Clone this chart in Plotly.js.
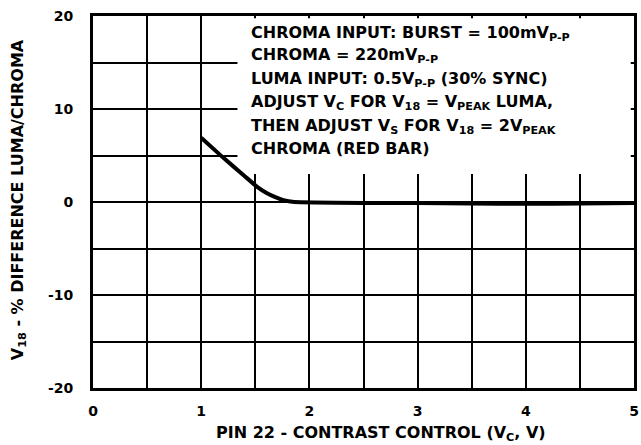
<!DOCTYPE html>
<html>
<head>
<meta charset="utf-8">
<script src="https://cdn.plot.ly/plotly-3.0.1.min.js"></script>
<style>html,body{margin:0;padding:0;background:#fff;}#chart{width:641px;height:445px;}</style>
</head>
<body>
<div id="chart"></div>
<script>
// Data
const contrastV = [1.0, 1.2, 1.4, 1.52, 1.6, 1.68, 1.76, 1.86, 2.5, 3.0, 3.5, 4.0, 4.5, 5.0];
const pctDiff   = [6.9, 4.8, 2.8, 1.6, 1.0, 0.55, 0.2, 0.0, -0.1, -0.1, -0.15, -0.2, -0.15, -0.1];
const xTickVals = [0, 1, 2, 3, 4, 5];
const xTickText = ["0", "1", "2", "3", "4", "5"];
const yTickVals = [-20, -10, 0, 10, 20];
const yTickText = ["-20", "-10", "0", "10", "20"];
const noteLines = [
  "CHROMA INPUT: BURST = 100mV<sub>P-P</sub>",
  "CHROMA = 220mV<sub>P-P</sub>",
  "LUMA INPUT: 0.5V<sub>P-P</sub> (30% SYNC)",
  "ADJUST V<sub>C</sub> FOR V<sub>18</sub> = V<sub>PEAK</sub> LUMA,",
  "THEN ADJUST V<sub>S</sub> FOR V<sub>18</sub> = 2V<sub>PEAK</sub>",
  "CHROMA (RED BAR)"
];
const xTitle = "PIN 22 - CONTRAST CONTROL (V<sub>C</sub>, V)";
const yTitle = "V<sub>18</sub> - % DIFFERENCE LUMA/CHROMA";

const fam = "DejaVu Sans, Verdana, sans-serif";
const noteY = [18.17, 15.7, 13.17, 10.65, 8.17, 5.7];

const annotations = noteLines.map((t, i) => ({
  text: t, x: 1.44, y: noteY[i], xref: 'x', yref: 'y',
  xanchor: 'left', yanchor: 'middle', showarrow: false,
  font: {family: fam, size: 16, color: '#000', weight: 'bold'}
}));
annotations.push({
  text: xTitle, xref: 'paper', yref: 'paper', x: 0.532, y: -0.122,
  xanchor: 'center', yanchor: 'middle', showarrow: false,
  font: {family: fam, size: 16, color: '#000', weight: 'bold'}
});
annotations.push({
  text: yTitle, xref: 'paper', yref: 'paper', x: -0.1386, y: 0.505,
  xanchor: 'center', yanchor: 'middle', showarrow: false, textangle: -90,
  font: {family: fam, size: 16, color: '#000', weight: 'bold'}
});

const trace = {
  x: contrastV, y: pctDiff, type: 'scatter', mode: 'lines',
  line: {color: '#000', width: 4, shape: 'spline', smoothing: 0.4},
  hoverinfo: 'skip'
};

const axisCommon = {
  showgrid: true, gridcolor: '#000', gridwidth: 2,
  showline: true, linecolor: '#000', linewidth: 3, mirror: true,
  zeroline: false, ticks: '', fixedrange: true, tickmode: 'array',
  tickfont: {family: fam, size: 14, color: '#000', weight: 'bold'}
};

const layout = {
  width: 641, height: 445,
  margin: {l: 93, r: 7, t: 16, b: 57},
  paper_bgcolor: '#fff', plot_bgcolor: '#fff',
  showlegend: false,
  xaxis: Object.assign({}, axisCommon, {
    range: [0, 5], tickvals: xTickVals, ticktext: xTickText, ticklabelstandoff: 8,
    minor: {dtick: 0.5, showgrid: true, gridcolor: '#000', gridwidth: 2}
  }),
  yaxis: Object.assign({}, axisCommon, {
    range: [-20, 20], tickvals: yTickVals, ticktext: yTickText, ticklabelstandoff: 14,
    minor: {dtick: 5, showgrid: true, gridcolor: '#000', gridwidth: 2}
  }),
  shapes: [{
    type: 'rect', xref: 'x', yref: 'y', x0: 1.335, x1: 4.97, y0: 3.0, y1: 19.75,
    fillcolor: '#fff', line: {width: 0}, layer: 'between'
  }],
  annotations: annotations
};

Plotly.newPlot('chart', [trace], layout, {staticPlot: true, displayModeBar: false});
</script>
</body>
</html>
